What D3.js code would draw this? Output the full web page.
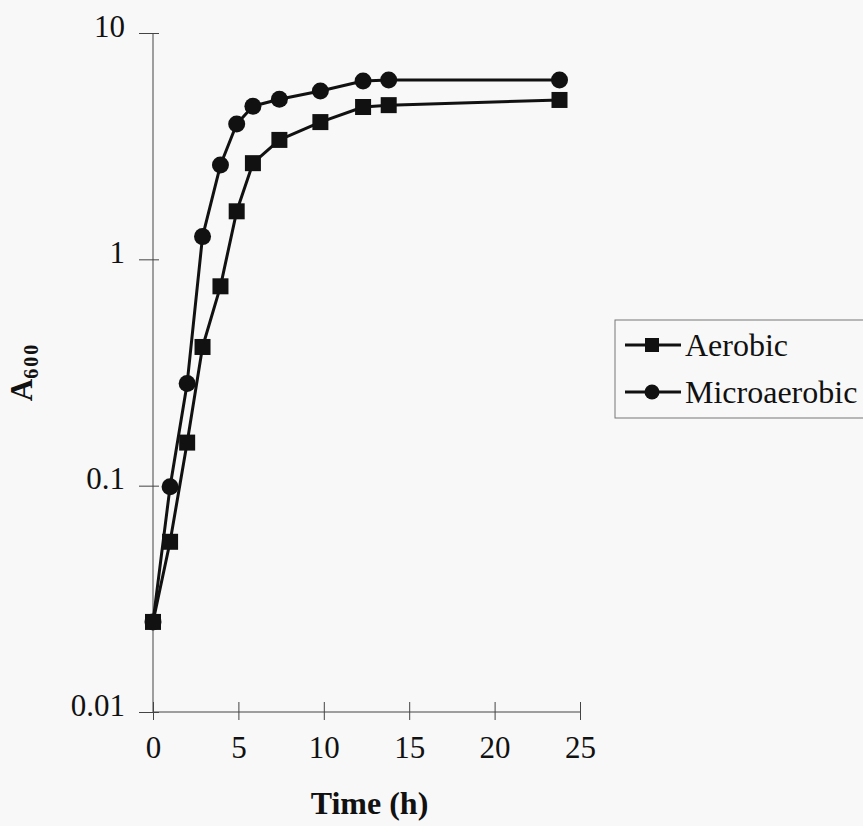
<!DOCTYPE html>
<html>
<head>
<meta charset="utf-8">
<script src="https://cdn.jsdelivr.net/npm/d3@7"></script>
<style>
  body { margin: 0; background: #f8f8f8; }
  svg { display: block; }
</style>
</head>
<body>
<div class="chart"></div>
<script>
"use strict";

// Sampling times (h)
var times = [0, 1, 2, 2.9, 3.95, 4.9, 5.85, 7.4, 9.8, 12.3, 13.8, 23.8]
// A600 readings
var aerobic = [0.025, 0.0565, 0.155, 0.41, 0.76, 1.63, 2.66, 3.37, 4.04, 4.71, 4.8, 5.06]
var microaerobic = [0.025, 0.099, 0.283, 1.26, 2.61, 3.96, 4.75, 5.1, 5.54, 6.14, 6.2, 6.2]

var xTicks = [0, 5, 10, 15, 20, 25]
var yTicks = [0.01, 0.1, 1, 10]
var seriesNames = ["Aerobic", "Microaerobic"]

var width = 863
var height = 826
var fontFamily = "'Liberation Serif', 'Times New Roman', serif"

var svg = d3.select('div.chart').append('svg')
    .attr('width', width)
    .attr('height', height)
    .style('font-family', fontFamily)

var x = d3.scaleLinear()
    .domain([0, 25])
    .range([153, 580])

var y = d3.scaleLog()
    .domain([0.01, 10])
    .range([712, 33])

// X axis with ticks crossing the line
var xAxis = svg.append('g')
    .attr('transform', 'translate(0,' + y(0.01) + ')')
    .call(d3.axisBottom(x).tickValues(xTicks).tickSize(8).tickFormat(d3.format('d')))
xAxis.select('.domain').attr('d', 'M' + x(0) + ',0H' + x(25)).attr('stroke', '#444')
xAxis.selectAll('.tick line').attr('y1', -10).attr('y2', 8).attr('stroke', '#444')
xAxis.selectAll('.tick text')
    .attr('y', 46)
    .attr('dy', 0)
    .attr('font-size', 31)
    .attr('font-family', fontFamily)
    .attr('fill', '#111')

// Y axis (log), labels at decades only, sitting a little above their ticks
var yAxis = svg.append('g')
    .attr('transform', 'translate(' + x(0) + ',0)')
    .call(d3.axisLeft(y).tickValues(yTicks).tickSize(14).tickFormat(d => String(d)))
yAxis.select('.domain').attr('d', 'M0,' + y(10) + 'V' + y(0.01)).attr('stroke', '#444')
yAxis.selectAll('.tick line').attr('x1', -14).attr('x2', 6).attr('stroke', '#444')
yAxis.selectAll('.tick text')
    .attr('x', -28)
    .attr('dy', 3)
    .attr('font-size', 31)
    .attr('font-family', fontFamily)
    .attr('fill', '#111')

// Axis titles
svg.append('text')
    .text('Time (h)')
    .attr('x', (x(0) + x(25)) / 2 + 3)
    .attr('y', 814)
    .attr('text-anchor', 'middle')
    .attr('font-size', 32)
    .attr('font-weight', 'bold')
    .attr('fill', '#111')

var yTitle = svg.append('text')
    .attr('transform', 'translate(32,372) rotate(-90)')
    .attr('text-anchor', 'middle')
    .attr('font-weight', 'bold')
    .attr('fill', '#111')
yTitle.append('tspan').text('A').attr('font-size', 31)
yTitle.append('tspan').text('600').attr('font-size', 20).attr('dy', 6).attr('letter-spacing', 2)

// Lines and markers
var line = d3.line()
    .x((d, i) => x(times[i]))
    .y(d => y(d))

var series = [aerobic, microaerobic]
series.forEach(function (values) {
    svg.append('path')
        .datum(values)
        .attr('d', line)
        .attr('fill', 'none')
        .attr('stroke', '#111')
        .attr('stroke-width', 3)
        .attr('stroke-linejoin', 'round')
})

svg.selectAll('rect.aer')
    .data(aerobic)
    .enter()
    .append('rect')
    .attr('class', 'aer')
    .attr('x', (d, i) => x(times[i]) - 8)
    .attr('y', d => y(d) - 8)
    .attr('width', 16)
    .attr('height', 16)
    .attr('fill', '#111')

svg.selectAll('circle.mic')
    .data(microaerobic)
    .enter()
    .append('circle')
    .attr('class', 'mic')
    .attr('cx', (d, i) => x(times[i]))
    .attr('cy', d => y(d))
    .attr('r', 8.5)
    .attr('fill', '#111')

// Legend
var legend = svg.append('g')
legend.append('rect')
    .attr('x', 615)
    .attr('y', 320)
    .attr('width', 260)
    .attr('height', 98)
    .attr('fill', 'none')
    .attr('stroke', '#777')
    .attr('stroke-width', 1)

seriesNames.forEach(function (name, k) {
    var ly = k === 0 ? 345 : 392
    legend.append('line')
        .attr('x1', 625).attr('x2', 681)
        .attr('y1', ly).attr('y2', ly)
        .attr('stroke', '#111')
        .attr('stroke-width', 3)
    if (k === 0) {
        legend.append('rect')
            .attr('x', 645).attr('y', ly - 7)
            .attr('width', 14).attr('height', 14)
            .attr('fill', '#111')
    } else {
        legend.append('circle')
            .attr('cx', 652).attr('cy', ly)
            .attr('r', 7.5)
            .attr('fill', '#111')
    }
    legend.append('text')
        .text(name)
        .attr('x', 685)
        .attr('y', ly + 11)
        .attr('font-size', 32)
        .attr('fill', '#111')
})
</script>
</body>
</html>
